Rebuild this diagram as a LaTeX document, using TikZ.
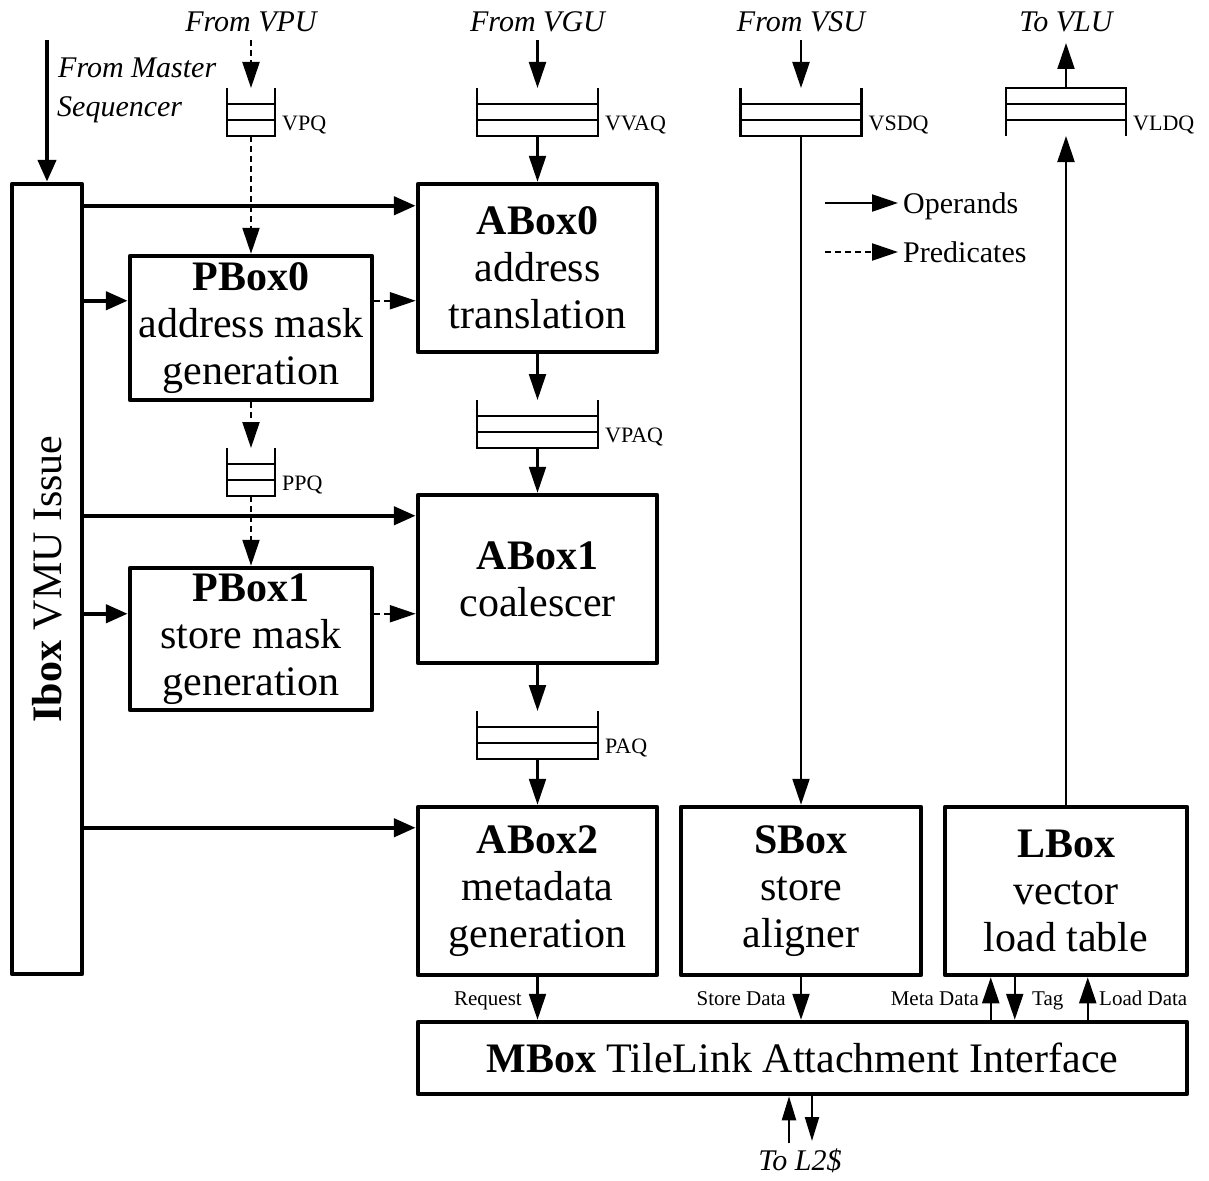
\documentclass[tikz,border=0pt]{standalone}
\usepackage{fontspec}
\setmainfont{Liberation Serif}
\usetikzlibrary{arrows.meta,calc}
\newcommand\fbig{\fontsize{42}{47}\selectfont}
\newcommand\fital{\fontsize{30}{36}\selectfont\itshape}
\newcommand\fqlab{\fontsize{22}{26}\selectfont}
\newcommand\fblab{\fontsize{21}{25}\selectfont}
\newcommand\flgd{\fontsize{30}{36}\selectfont}
\begin{document}
\begin{tikzpicture}[x=1pt,y=-1pt,
  box/.style={draw, line width=4.5pt, line join=round, align=center, inner sep=0pt, font=\fbig},
  queue/.style={inner sep=0pt, outer sep=0pt, minimum height=48pt},
  qline/.style={line width=2.2pt},
  qlab/.style={font=\fqlab, anchor=base west, inner sep=0pt},
  blab/.style={font=\fblab, inner sep=0pt},
  ital/.style={font=\fital, inner sep=0pt, anchor=base},
  arr/.style={line width=2.2pt, -{Triangle[length=26pt,width=17pt]}},
  sarr/.style={line width=2.2pt, -{Triangle[length=24pt,width=14pt]}},
  tarr/.style={line width=4.5pt, -{Triangle[length=22pt,width=18pt]}},
  darr/.style={arr, dash pattern=on 6pt off 4pt},
]
\useasboundingbox (0,0) rectangle (1209,1180);

% ---------- boxes ----------
\node[box, minimum width=70pt, minimum height=790pt] (ibox) at (47,579) {};
\node[rotate=90, font=\fbig, inner sep=0pt] (iboxlabel) at (ibox.center) {\textbf{Ibox} VMU Issue};

\node[box, minimum width=239pt, minimum height=168pt] (abox0) at (537.5,268) {\textbf{ABox0}\\address\\translation};
\node[box, minimum width=242pt, minimum height=144pt] (pbox0) at (251,328) {\textbf{PBox0}\\address mask\\generation};
\node[box, minimum width=242pt, minimum height=142pt] (pbox1) at (251,639) {\textbf{PBox1}\\store mask\\generation};
\node[box, minimum width=239pt, minimum height=168pt] (abox1) at (537.5,579) {\textbf{ABox1}\\coalescer};
\node[box, minimum width=239pt, minimum height=168pt] (abox2) at (537.5,891) {\textbf{ABox2}\\metadata\\generation};
\node[box, minimum width=240pt, minimum height=168pt] (sbox) at (801,891) {\textbf{SBox}\\store\\aligner};
\node[box, minimum width=242pt, minimum height=168pt] (lbox) at (1066,891) {\textbf{LBox}\\vector\\load table};
\node[box, minimum width=769pt, minimum height=72pt] (mbox) at (802.5,1058) {\textbf{MBox} TileLink Attachment Interface};

% ---------- queues ----------
\node[queue, minimum width=48pt] (vpq) at (251,112) {};
\node[queue, minimum width=121pt] (vvaq) at (537.5,112) {};
\node[queue, minimum width=121pt] (vsdq) at (801,112) {};
\node[queue, minimum width=120pt] (vldq) at (1066,112) {};
\node[queue, minimum width=121pt] (vpaq) at (537.5,424) {};
\node[queue, minimum width=48pt] (ppq) at (251,472) {};
\node[queue, minimum width=121pt] (paq) at (537.5,735) {};

\foreach \q in {vpq,vvaq,vsdq,vpaq,ppq,paq}{
  \draw[qline] (\q.north west) -- (\q.south west) -- (\q.south east) -- (\q.north east);
  \draw[qline] ($(\q.north west)!1/3!(\q.south west)$) -- ($(\q.north east)!1/3!(\q.south east)$);
  \draw[qline] ($(\q.north west)!2/3!(\q.south west)$) -- ($(\q.north east)!2/3!(\q.south east)$);
}
\draw[qline] (vldq.south west) -- (vldq.north west) -- (vldq.north east) -- (vldq.south east);
\draw[qline] ($(vldq.north west)!1/3!(vldq.south west)$) -- ($(vldq.north east)!1/3!(vldq.south east)$);
\draw[qline] ($(vldq.north west)!2/3!(vldq.south west)$) -- ($(vldq.north east)!2/3!(vldq.south east)$);

\node[qlab] (vpql) at ($(vpq.south east)+(7,-6)$) {VPQ};
\node[qlab] (vvaql) at ($(vvaq.south east)+(7,-6)$) {VVAQ};
\node[qlab] (vsdql) at ($(vsdq.south east)+(7,-6)$) {VSDQ};
\node[qlab] (vldql) at ($(vldq.south east)+(7,-6)$) {VLDQ};
\node[qlab] (vpaql) at ($(vpaq.south east)+(7,-6)$) {VPAQ};
\node[qlab] (ppql) at ($(ppq.south east)+(7,-6)$) {PPQ};
\node[qlab] (paql) at ($(paq.south east)+(7,-6)$) {PAQ};

% ---------- top labels ----------
\node[ital] (fvpu) at (251,32) {From VPU};
\node[ital] (fvgu) at (537.5,32) {From VGU};
\node[ital] (fvsu) at (801,32) {From VSU};
\node[ital] (tvlu) at (1066,32) {To VLU};
\node[ital, anchor=base west] (fms1) at (58,78) {From Master};
\node[ital, anchor=base west] (fms2) at (57,117) {Sequencer};

\coordinate (mseqtop) at (47,40);
\coordinate (vputop) at (251,40);
\coordinate (vgutop) at (537.5,40);
\coordinate (vsutop) at (801,40);
\coordinate (vlutop) at (1066,43);

% ---------- vertical flows ----------
\draw[tarr] (mseqtop) -- (ibox.north);
\draw[darr] (vputop) -- (vpq.north);
\draw[darr] (vpq.south) -- (pbox0.north);
\draw[darr] (pbox0.south) -- (ppq.north);
\draw[darr] (ppq.south) -- (pbox1.north);

\draw[arr] (vgutop) -- (vvaq.north);
\draw[arr] (vvaq.south) -- (abox0.north);
\draw[arr] (abox0.south) -- (vpaq.north);
\draw[arr] (vpaq.south) -- (abox1.north);
\draw[arr] (abox1.south) -- (paq.north);
\draw[arr] (paq.south) -- (abox2.north);

\draw[arr] (vsutop) -- (vsdq.north);
\draw[arr] (vsdq.south) -- (sbox.north);
\draw[arr] (lbox.north) -- (vldq.south);
\draw[arr] (vldq.north) -- (vlutop);

% ---------- Ibox issue arrows ----------
\coordinate (a0in) at ($(abox0.north west)+(0,24)$);
\coordinate (p0in) at ($(pbox0.north west)+(0,47)$);
\coordinate (a1in) at ($(abox1.north west)+(0,23)$);
\coordinate (p1in) at ($(pbox1.north west)+(0,48)$);
\coordinate (a2in) at ($(abox2.north west)+(0,23)$);
\draw[tarr] (ibox.east |- a0in) -- (a0in);
\draw[tarr] (ibox.east |- p0in) -- (p0in);
\draw[tarr] (ibox.east |- a1in) -- (a1in);
\draw[tarr] (ibox.east |- p1in) -- (p1in);
\draw[tarr] (ibox.east |- a2in) -- (a2in);
\draw[darr] (pbox0.east |- p0in) -- (abox0.west |- p0in);
\draw[darr] (pbox1.east |- p1in) -- (abox1.west |- p1in);

% ---------- MBox connections ----------
\coordinate (md) at ($(lbox.south west)+(48,0)$);
\coordinate (tg) at ($(lbox.south west)+(72,0)$);
\coordinate (ld) at ($(lbox.south west)+(145,0)$);
\draw[arr] (abox2.south) -- (abox2.south |- mbox.north);
\draw[arr] (sbox.south) -- (sbox.south |- mbox.north);
\draw[arr] (md |- mbox.north) -- (md);
\draw[arr] (tg) -- (tg |- mbox.north);
\draw[arr] (ld |- mbox.north) -- (ld);

\node[blab, anchor=base east] (lreq) at (522,1005) {Request};
\node[blab, anchor=base east] (lsd) at (786,1005) {Store Data};
\node[blab, anchor=base east] (lmd) at (979,1005) {Meta Data};
\node[blab, anchor=base west] (ltag) at (1032,1005) {Tag};
\node[blab, anchor=base west] (lld) at (1099,1005) {Load Data};

\coordinate (l2up) at (789,1143);
\coordinate (l2dn) at (812,1141);
\draw[sarr] (l2up) -- (l2up |- mbox.south);
\draw[sarr] (l2dn |- mbox.south) -- (l2dn);
\node[ital] (tl2) at (800,1170) {To L2\$};

% ---------- legend ----------
\coordinate (lg1a) at (825,203);
\coordinate (lg1b) at (898,203);
\coordinate (lg2a) at (825,252);
\coordinate (lg2b) at (898,252);
\draw[arr] (lg1a) -- (lg1b);
\draw[darr] (lg2a) -- (lg2b);
\node[font=\flgd, anchor=base west, inner sep=0pt] (lgop) at (903,213) {Operands};
\node[font=\flgd, anchor=base west, inner sep=0pt] (lgpr) at (903,262) {Predicates};
\end{tikzpicture}
\end{document}
